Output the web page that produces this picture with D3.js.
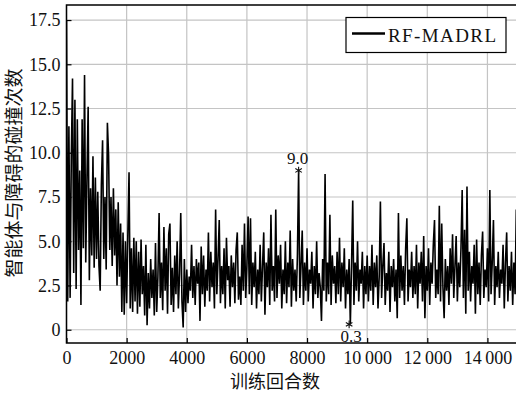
<!DOCTYPE html>
<html>
<head>
<meta charset="utf-8">
<script src="https://cdn.jsdelivr.net/npm/d3@7"></script>
<style>
  html, body { margin: 0; padding: 0; background: #fff; }
  svg text { font-family: "Liberation Serif", "DejaVu Serif", serif; font-weight: normal; fill: #111; }
  .cjk { font-family: "Noto Sans CJK SC", sans-serif !important; }
</style>
</head>
<body>
<div id="chart"></div>
<script>
// collisions per training episode, one reading every EPISODE_STEP episodes
const EPISODE_STEP = 40;
const collisions = [
  // 0 - 960
  17.5, 1.6, 11.5, 1.8, 9.8, 14.2, 3.2, 13.0, 2.3, 11.9, 4.5, 9.0, 1.4, 11.9, 4.6, 14.4, 3.8, 8.5, 12.6, 2.8, 8.0, 4.2, 9.8, 3.5, 8.6,
  // 1000 - 1960
  4.0, 7.8, 3.6, 2.2, 8.2, 10.7, 4.0, 7.5, 3.4, 11.7, 9.85, 4.5, 7.5, 3.6, 8.0, 4.2, 6.8, 2.5, 7.2, 3.0, 6.0, 1.0, 5.5, 0.85, 5.0,
  // 2000 - 2960
  1.5, 5.4, 8.9, 1.2, 4.6, 1.0, 5.2, 1.6, 5.0, 0.9, 4.4, 1.3, 5.1, 2.0, 3.6, 0.8, 4.8, 0.25, 3.2, 1.2, 4.0, 1.8, 3.4, 0.8, 4.9,
  // 3000 - 3960
  1.0, 3.0, 6.6, 1.8, 3.8, 1.1, 5.8, 2.2, 4.6, 0.9, 5.4, 6.0, 1.4, 3.5, 1.0, 4.2, 2.0, 5.0, 1.2, 3.2, 6.6, 1.6, 0.13, 4.0, 1.0,
  // 4000 - 4960
  3.4, 1.5, 3.0, 2.2, 4.8, 1.8, 3.6, 1.4, 4.0, 2.6, 3.8, 0.5, 4.7, 2.0, 4.2, 1.3, 3.4, 2.2, 5.5, 1.6, 4.4, 2.4, 3.8, 1.2, 6.8,
  // 5000 - 5960
  2.0, 4.0, 6.2, 1.5, 3.6, 2.0, 4.6, 1.2, 5.2, 2.8, 3.6, 1.3, 4.2, 2.4, 3.8, 1.5, 4.5, 5.5, 1.7, 3.0, 1.4, 4.8, 2.2, 6.0, 1.8,
  // 6000 - 6960
  3.6, 6.4, 2.0, 6.3, 1.4, 3.8, 2.4, 4.4, 1.2, 3.4, 2.0, 4.8, 1.6, 3.6, 5.5, 0.85, 3.8, 2.4, 4.6, 1.4, 6.5, 2.2, 3.6, 1.6, 6.8,
  // 7000 - 7960
  1.8, 4.2, 2.6, 4.8, 1.2, 3.4, 2.0, 5.0, 1.5, 3.8, 2.4, 5.6, 1.3, 4.0, 2.2, 3.4, 1.6, 4.2, 9.0, 1.8, 3.6, 5.6, 1.4, 3.8, 2.2,
  // 8000 - 8960
  4.6, 1.6, 3.4, 2.6, 4.4, 1.2, 3.6, 2.0, 5.0, 1.8, 3.2, 2.4, 0.5, 4.0, 2.2, 8.8, 1.6, 3.8, 2.0, 6.5, 1.4, 4.2, 2.6, 3.6, 1.5,
  // 9000 - 9960
  4.4, 2.0, 5.2, 1.6, 3.8, 2.4, 4.6, 1.2, 3.4, 2.0, 4.0, 0.3, 3.6, 7.3, 1.4, 3.8, 2.2, 5.0, 1.6, 3.4, 2.6, 4.4, 1.2, 3.6, 2.0,
  // 10000 - 10960
  4.2, 1.6, 3.6, 2.2, 4.8, 1.4, 3.8, 2.4, 4.2, 1.2, 3.0, 7.25, 1.8, 3.6, 4.9, 1.4, 3.2, 2.2, 4.4, 1.0, 3.6, 2.4, 4.0, 1.6, 3.4,
  // 11000 - 11960
  0.65, 6.6, 1.8, 4.2, 2.2, 3.6, 1.4, 4.6, 6.3, 1.6, 3.4, 2.4, 4.4, 1.8, 3.6, 2.0, 4.8, 1.2, 3.8, 2.6, 4.4, 1.6, 5.3, 0.65, 3.6,
  // 12000 - 12960
  2.2, 4.6, 1.4, 3.8, 2.6, 4.8, 6.2, 1.8, 3.4, 2.0, 7.0, 1.6, 6.0, 2.4, 0.65, 4.0, 2.2, 3.6, 1.4, 4.6, 2.6, 5.4, 1.8, 3.6, 5.3,
  // 13000 - 13960
  1.6, 3.8, 2.4, 4.6, 7.9, 1.8, 5.65, 0.9, 8.1, 2.2, 4.4, 1.6, 3.6, 2.6, 4.8, 0.9, 5.1, 2.0, 3.8, 1.4, 4.2, 5.55, 1.8, 3.4, 2.4,
  // 14000 - 14960
  4.6, 1.6, 7.9, 2.0, 3.8, 6.2, 1.4, 3.6, 2.4, 4.4, 1.8, 3.4, 2.6, 4.8, 1.2, 3.8, 5.5, 1.6, 3.6, 2.2, 4.4, 1.4, 3.8, 2.0, 6.8
];

const xTicks = [0, 2000, 4000, 6000, 8000, 10000, 12000, 14000];
const xTickLabels = ['0', '2000', '4000', '6000', '8000', '10\u2009000', '12\u2009000', '14\u2009000'];
const yTicks = [0, 2.5, 5, 7.5, 10, 12.5, 15, 17.5];
const yTickLabels = ['0', '2.5', '5.0', '7.5', '10.0', '12.5', '15.0', '17.5'];

// annotated points
const marks = [
  { episode: 7720, value: 9.0, label: '9.0', side: 'above' },
  { episode: 9400, value: 0.3, label: '0.3', side: 'below' }
];

const seriesName = 'RF-MADRL';
const xTitle = '训练回合数';
const yTitle = '智能体与障碍的碰撞次数';

const W = 516, H = 394;
const plot = { left: 66.5, right: 517.5, top: 5, bottom: 343 };

const svg = d3.select('#chart').append('svg')
  .attr('width', W)
  .attr('height', H);

const x = d3.scaleLinear().domain([0, 15000]).range([plot.left, plot.right]);
const y = d3.scaleLinear().domain([-0.75, 18.35]).range([plot.bottom, plot.top]);

// grid
const grid = svg.append('g').attr('stroke', '#c4c4c4').attr('stroke-width', 1.2);
xTicks.forEach(t => {
  grid.append('line')
    .attr('x1', x(t)).attr('x2', x(t))
    .attr('y1', plot.top).attr('y2', plot.bottom);
});
yTicks.forEach(t => {
  grid.append('line')
    .attr('x1', plot.left).attr('x2', plot.right)
    .attr('y1', y(t)).attr('y2', y(t));
});

// data line
const line = d3.line()
  .x((d, i) => x(i * EPISODE_STEP))
  .y(d => y(d));

svg.append('defs').append('clipPath').attr('id', 'clip')
  .append('rect')
  .attr('x', plot.left).attr('y', plot.top)
  .attr('width', plot.right - plot.left).attr('height', plot.bottom - plot.top);

svg.append('path')
  .datum(collisions)
  .attr('clip-path', 'url(#clip)')
  .attr('fill', 'none')
  .attr('stroke', '#000')
  .attr('stroke-width', 1.6)
  .attr('stroke-linejoin', 'miter')
  .attr('d', line);

// frame
svg.append('rect')
  .attr('x', plot.left).attr('y', plot.top)
  .attr('width', plot.right - plot.left).attr('height', plot.bottom - plot.top)
  .attr('fill', 'none')
  .attr('stroke', '#000')
  .attr('stroke-width', 1.5);

// axes with inward ticks
const xAxis = d3.axisBottom(x)
  .tickValues(xTicks)
  .tickSize(-5)
  .tickSizeOuter(0)
  .tickPadding(8.5)
  .tickFormat((d, i) => xTickLabels[i]);

const gx = svg.append('g')
  .attr('transform', `translate(0,${plot.bottom})`)
  .call(xAxis);
gx.select('.domain').remove();
gx.selectAll('line').attr('stroke-width', 1.2);
gx.selectAll('text').attr('font-size', 18);

const yAxis = d3.axisLeft(y)
  .tickValues(yTicks)
  .tickSize(-5)
  .tickSizeOuter(0)
  .tickPadding(6)
  .tickFormat((d, i) => yTickLabels[i]);

const gy = svg.append('g')
  .attr('transform', `translate(${plot.left},0)`)
  .call(yAxis);
gy.select('.domain').remove();
gy.selectAll('line').attr('stroke-width', 1.2);
gy.selectAll('text').attr('font-size', 18);

// annotations: asterisk marker + value label
const star = d3.symbol(d3.symbolAsterisk, 40);
marks.forEach(m => {
  const cx = x(m.episode), cy = y(m.value);
  svg.append('path')
    .attr('transform', `translate(${cx},${cy})`)
    .attr('d', star())
    .attr('fill', 'none')
    .attr('stroke', '#111')
    .attr('stroke-width', 1.1);
  svg.append('text')
    .attr('x', cx + (m.side === 'above' ? -1 : 2))
    .attr('y', m.side === 'above' ? cy - 6 : cy + 17.5)
    .attr('text-anchor', 'middle')
    .attr('font-size', 17)
    .text(m.label);
});

// legend
const lg = svg.append('g');
lg.append('rect')
  .attr('x', 346).attr('y', 17.5)
  .attr('width', 160).attr('height', 35)
  .attr('fill', '#fff')
  .attr('stroke', '#000')
  .attr('stroke-width', 1.2);
lg.append('line')
  .attr('x1', 352).attr('x2', 385)
  .attr('y1', 33.5).attr('y2', 33.5)
  .attr('stroke', '#000')
  .attr('stroke-width', 2.5);
lg.append('text')
  .attr('x', 388).attr('y', 41.5)
  .attr('font-size', 19)
  .attr('textLength', 108)
  .text(seriesName);

// titles
svg.append('text')
  .attr('class', 'cjk')
  .attr('x', 275).attr('y', 388)
  .attr('text-anchor', 'middle')
  .attr('font-size', 18)
  .text(xTitle);

svg.append('text')
  .attr('class', 'cjk')
  .attr('transform', 'translate(21,173) rotate(-90)')
  .attr('text-anchor', 'middle')
  .attr('font-size', 19)
  .text(yTitle);
</script>
</body>
</html>
